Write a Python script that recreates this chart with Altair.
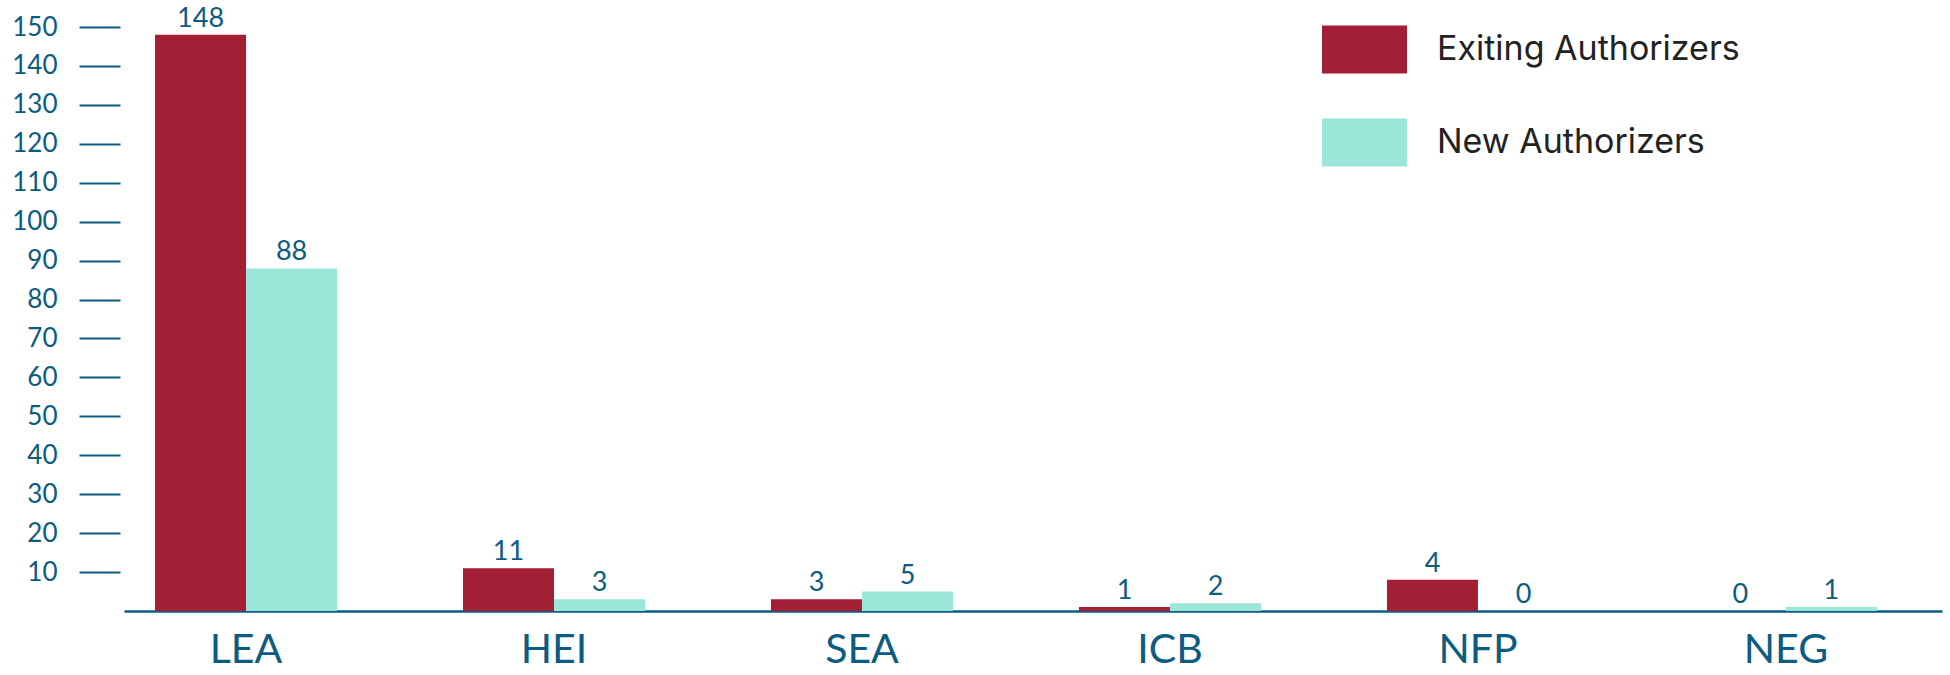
import altair as alt
import pandas as pd

categories = ["LEA", "HEI", "SEA", "ICB", "NFP", "NEG"]
series = ["Exiting Authorizers", "New Authorizers"]
# bar heights as drawn in the reference
exiting_values = [148, 11, 3, 1, 8, 0]
new_values = [88, 3, 5, 2, 0, 1]
# numbers printed above the bars
exiting_labels = [148, 11, 3, 1, 4, 0]
new_labels = [88, 3, 5, 2, 0, 1]
y_ticks = [10, 20, 30, 40, 50, 60, 70, 80, 90, 100, 110, 120, 130, 140, 150]
colors = ["#a31f35", "#9be6d9"]

BLUE = "#0b5c80"

rows = []
for i, c in enumerate(categories):
    rows.append({"category": c, "series": series[0], "value": exiting_values[i], "label": exiting_labels[i]})
    rows.append({"category": c, "series": series[1], "value": new_values[i], "label": new_labels[i]})
df = pd.DataFrame(rows)

base = alt.Chart(df).encode(
    x=alt.X(
        "category:N",
        sort=categories,
        scale=alt.Scale(paddingInner=0.409, paddingOuter=0.156, align=0.323),
        axis=alt.Axis(
            title=None, labelAngle=0, ticks=False, domainColor=BLUE, domainWidth=2.5,
            labelFontSize=41, labelFont="Lato", labelColor=BLUE, labelPadding=19,
        ),
    ),
    xOffset=alt.XOffset("series:N", sort=series, scale=alt.Scale(paddingInner=0, paddingOuter=0)),
)

bars = base.mark_bar().encode(
    y=alt.Y(
        "value:Q",
        scale=alt.Scale(domain=[0, 150], nice=False),
        axis=alt.Axis(
            values=y_ticks, title=None, domain=False, grid=False, tickSize=41, tickWidth=2,
            tickColor=BLUE, offset=4, labelPadding=22, labelFontSize=26, labelFont="Lato",
            labelColor=BLUE,
        ),
    ),
    color=alt.Color(
        "series:N",
        scale=alt.Scale(domain=series, range=colors),
        legend=alt.Legend(
            title=None, orient="none", legendX=1198, legendY=-20, padding=0,
            symbolType="M-1,-0.565H1V0.565H-1Z", symbolSize=7225, symbolStrokeWidth=0,
            symbolOpacity=1, labelFontSize=34, labelFont="Inter", labelColor="#222222",
            labelOffset=30, rowPadding=26, labelLimit=0,
        ),
    ),
)

text = base.mark_text(dy=-8, baseline="alphabetic", fontSize=27, font="Lato", color=BLUE).encode(
    y=alt.Y("value:Q"),
    text=alt.Text("label:Q", format="d"),
)

chart = (
    alt.layer(bars, text)
    .properties(
        width=1818, height=584,
        autosize=alt.AutoSizeParams(type="none"),
        padding={"left": 124, "top": 27, "right": 8, "bottom": 64},
        background="white",
    )
    .configure_view(strokeWidth=0)
)

chart.save("out.html", embed_options={"renderer": "svg", "actions": False})
